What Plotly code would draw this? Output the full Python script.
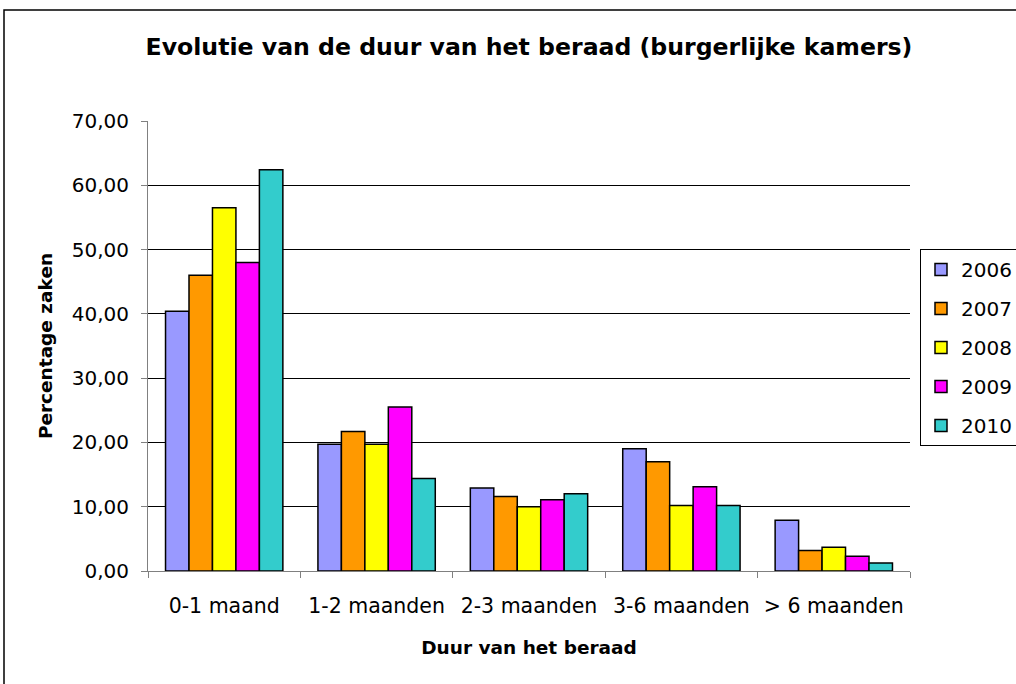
import plotly.graph_objects as go

categories = ["0-1 maand", "1-2 maanden", "2-3 maanden", "3-6 maanden", "> 6 maanden"]
years = ["2006", "2007", "2008", "2009", "2010"]
v2006 = [40.4, 19.7, 12.9, 19.0, 7.9]
v2007 = [46.0, 21.7, 11.6, 17.0, 3.2]
v2008 = [56.5, 19.7, 10.0, 10.2, 3.7]
v2009 = [48.0, 25.5, 11.1, 13.1, 2.3]
v2010 = [62.4, 14.4, 12.0, 10.2, 1.25]
series = [v2006, v2007, v2008, v2009, v2010]
colors = ["#9999FF", "#FF9900", "#FFFF00", "#FF00FF", "#33CCCC"]
yticks = [0, 10, 20, 30, 40, 50, 60, 70]
yticklabels = ["0,00", "10,00", "20,00", "30,00", "40,00", "50,00", "60,00", "70,00"]

FONT = "DejaVu Sans, Liberation Sans, Arial, sans-serif"

fig = go.Figure()
for name, vals, col in zip(years, series, colors):
    fig.add_trace(go.Bar(x=categories, y=vals, name=name, legendgroup=name,
                         marker=dict(color=col, line=dict(color="black", width=1.5))))

W, H = 1016, 684
L, R, T, B = 148, 106, 121, 113
pw, ph = W - L - R, H - T - B

def px(x):
    return (x - L) / pw

def py(y):
    return (H - B - y) / ph

fig.update_layout(
    width=W, height=H,
    margin=dict(l=L, r=R, t=T, b=B, autoexpand=False),
    paper_bgcolor="white", plot_bgcolor="white",
    barmode="group", bargap=0.23, bargroupgap=0,
    font=dict(family=FONT, color="black", size=20),
    title=dict(text="<b>Evolutie van de duur van het beraad (burgerlijke kamers)</b>",
               x=0.5, xref="paper", xanchor="center", y=1 - 47 / H, yanchor="middle",
               font=dict(size=23.6)),
    showlegend=True,
    legend=dict(x=px(920), y=py(249), xanchor="left", yanchor="top",
                bordercolor="black", borderwidth=1, bgcolor="white",
                font=dict(size=20), itemwidth=30, tracegroupgap=10,
                traceorder="grouped"),
    xaxis=dict(showline=True, linecolor="#808080", linewidth=1,
               ticks="outside", ticklen=6, tickcolor="#808080",
               tickson="boundaries", showgrid=False, ticklabelstandoff=16,
               title=dict(text="<b>Duur van het beraad</b>", font=dict(size=18.5), standoff=24),
               tickfont=dict(size=20.5)),
    yaxis=dict(range=[0, 70], tickvals=yticks, ticktext=yticklabels,
               showline=True, linecolor="#808080", linewidth=1,
               ticks="outside", ticklen=6, tickcolor="#808080", ticklabelstandoff=8,
               showgrid=True, gridcolor="black", gridwidth=1, zeroline=False,
               title=dict(text="<b>Percentage zaken</b>", font=dict(size=18.5), standoff=14),
               tickfont=dict(size=20)),
)

fig.add_shape(type="rect", xref="paper", yref="paper",
              x0=px(4), x1=px(1030), y0=py(10), y1=py(700),
              line=dict(color="black", width=1.5), fillcolor="rgba(0,0,0,0)", layer="below")

fig.write_html("out.html", config={"displayModeBar": False},
               post_script="document.body.style.margin='0';")
